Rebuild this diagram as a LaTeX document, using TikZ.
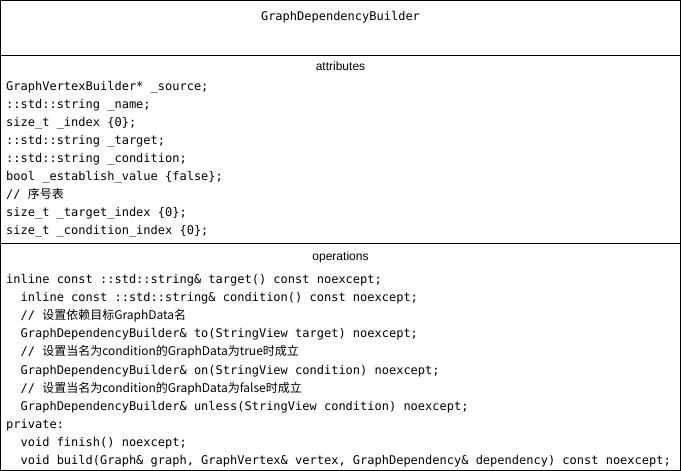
\documentclass[tikz,border=0pt]{standalone}
\usepackage{fontspec}
\setmainfont{Liberation Sans}
\setsansfont{Liberation Sans}
\setmonofont{DejaVu Sans Mono}
\newfontfamily\cjk{Noto Sans CJK SC}
\tikzset{
  codeline/.style={anchor=base west, inner sep=0pt, font=\ttfamily\fontsize{12}{14}\selectfont},
  titletext/.style={anchor=base, inner sep=0pt, font=\ttfamily\fontsize{12}{14}\selectfont},
  sectlabel/.style={anchor=base, inner sep=0pt, font=\sffamily\fontsize{12}{14}\selectfont},
  frame/.style={draw=black, line width=1pt},
}
\begin{document}
\begin{tikzpicture}[x=1pt,y=-1pt]
\useasboundingbox (0,0) rectangle (681,471);
% frame
\draw[frame] (0.5,0.5) rectangle (680.2,470.5);
\draw[frame] (0.5,55.5) -- (680.2,55.5);
\draw[frame] (0.5,243.5) -- (680.2,243.5);
% title
\node[titletext] (title) at (340.5,20) {GraphDependencyBuilder};
% attributes
\node[sectlabel] (attrlabel) at (340.5,70) {attributes};
\node[codeline] (a1) at (6,90) {GraphVertexBuilder* \_source;};
\node[codeline] (a2) at (6,108) {::std::string \_name;};
\node[codeline] (a3) at (6,126) {size\_t \_index \{0\};};
\node[codeline] (a4) at (6,144) {::std::string \_target;};
\node[codeline] (a5) at (6,162) {::std::string \_condition;};
\node[codeline] (a6) at (6,180) {bool \_establish\_value \{false\};};
\node[codeline] (a7) at (6,198) {//\ {\cjk 序号表}};
\node[codeline] (a8) at (6,216) {size\_t \_target\_index \{0\};};
\node[codeline] (a9) at (6,234) {size\_t \_condition\_index \{0\};};
% operations
\node[sectlabel] (oplabel) at (340.5,260) {operations};
\node[codeline] (o1) at (6,283.5) {inline const ::std::string\& target() const noexcept;};
\node[codeline] (o2) at (20.45,301.6) {inline const ::std::string\& condition() const noexcept;};
\node[codeline] (o3) at (20.45,319.7) {//\ {\cjk 设置依赖目标GraphData名}};
\node[codeline] (o4) at (20.45,337.8) {GraphDependencyBuilder\& to(StringView target) noexcept;};
\node[codeline] (o5) at (20.45,355.9) {//\ {\cjk 设置当名为condition的GraphData为true时成立}};
\node[codeline] (o6) at (20.45,374.0) {GraphDependencyBuilder\& on(StringView condition) noexcept;};
\node[codeline] (o7) at (20.45,392.1) {//\ {\cjk 设置当名为condition的GraphData为false时成立}};
\node[codeline] (o8) at (20.45,410.2) {GraphDependencyBuilder\& unless(StringView condition) noexcept;};
\node[codeline] (o9) at (6,428.3) {private:};
\node[codeline] (o10) at (20.45,446.4) {void finish() noexcept;};
\node[codeline] (o11) at (20.45,464.5) {void build(Graph\& graph, GraphVertex\& vertex, GraphDependency\& dependency) const noexcept;};
\end{tikzpicture}
\end{document}
